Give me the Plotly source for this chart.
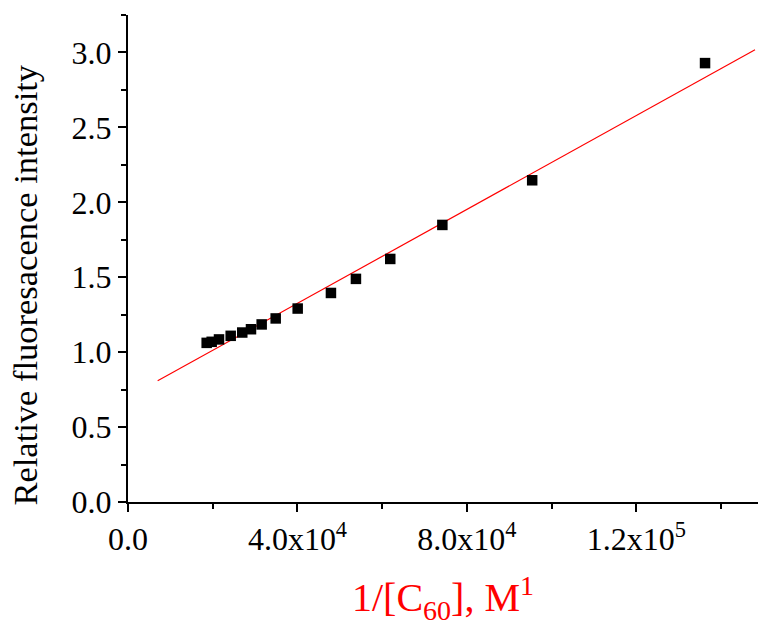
import plotly.graph_objects as go

# data
inv_c60 = [18570, 19750, 21480, 24240, 26970, 29030, 31550, 34860, 40050,
           47900, 53800, 61900, 74200, 95400, 136200]
rel_intensity = [1.062, 1.069, 1.085, 1.109, 1.131, 1.153, 1.185, 1.225, 1.291,
                 1.395, 1.489, 1.622, 1.849, 2.147, 2.929]

fit_slope = 1.567e-5
fit_intercept = 0.699
fit_x = [7000, 148000]
fit_y = [fit_intercept + fit_slope * x for x in fit_x]

x_tickvals = [0, 40000, 80000, 120000]
x_ticktext = ["0.0", "4.0x10<sup>4</sup>", "8.0x10<sup>4</sup>", "1.2x10<sup>5</sup>"]
y_tickvals = [0.0, 0.5, 1.0, 1.5, 2.0, 2.5, 3.0]
y_ticktext = ["0.0", "0.5", "1.0", "1.5", "2.0", "2.5", "3.0"]

FONT = "Liberation Serif"

fig = go.Figure()
fig.add_trace(go.Scatter(x=fit_x, y=fit_y, mode="lines",
                         line=dict(color="red", width=1.2), showlegend=False))
fig.add_trace(go.Scatter(x=inv_c60, y=rel_intensity, mode="markers",
                         marker=dict(symbol="square", size=10.5, color="black"),
                         showlegend=False))

fig.update_layout(
    width=758, height=626,
    margin=dict(l=128, r=0, t=15, b=124),
    paper_bgcolor="white", plot_bgcolor="white",
    font=dict(family=FONT, color="black", size=32),
    annotations=[dict(
        text="Relative fluoresacence intensity", textangle=-90,
        xref="paper", yref="paper", x=-0.163, y=0.445,
        xanchor="center", yanchor="middle", showarrow=False,
        font=dict(family=FONT, size=34.5, color="black"),
    )],
)
fig.update_xaxes(
    range=[0, 148700], showgrid=False, zeroline=False,
    showline=True, linecolor="black", linewidth=2,
    ticks="outside", ticklen=8, tickwidth=1.5, tickcolor="black",
    tickvals=x_tickvals, ticktext=x_ticktext,
    tickfont=dict(family=FONT, size=32, color="black"),
    minor=dict(ticks="outside", ticklen=5, tickwidth=1.5, tickcolor="black", dtick=20000, tick0=0),
    title=dict(text="1/[C<sub>60</sub>], M<sup>1</sup>",
               font=dict(family=FONT, size=40, color="red"), standoff=27),
)
fig.update_yaxes(
    range=[0, 3.25], showgrid=False, zeroline=False,
    showline=True, linecolor="black", linewidth=2,
    ticks="outside", ticklen=8, tickwidth=1.5, tickcolor="black",
    tickvals=y_tickvals, ticktext=y_ticktext,
    tickfont=dict(family=FONT, size=32, color="black"),
    minor=dict(ticks="outside", ticklen=5, tickwidth=1.5, tickcolor="black", dtick=0.25, tick0=0),
)

fig.write_html("out.html")
